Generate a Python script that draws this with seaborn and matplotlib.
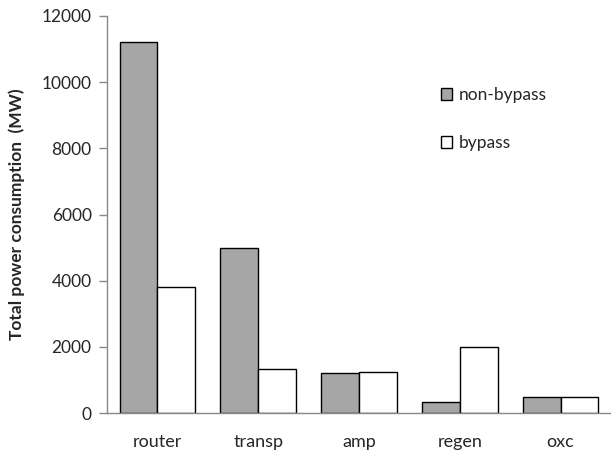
import numpy as np
import pandas as pd
import matplotlib
matplotlib.use("Agg")
import matplotlib.pyplot as plt
import seaborn as sns

categories = ["router", "transp", "amp", "regen", "oxc"]
non_bypass = [11200, 4980, 1200, 350, 480]
bypass = [3800, 1330, 1230, 2000, 480]
series_names = ["non-bypass", "bypass"]
y_ticks = [0, 2000, 4000, 6000, 8000, 10000, 12000]

df = pd.DataFrame({
    "category": categories * 2,
    "value": non_bypass + bypass,
    "series": [series_names[0]] * len(categories) + [series_names[1]] * len(categories),
})

sns.set_style("white")
plt.rcParams["font.family"] = ["Lato", "DejaVu Sans"]

fig = plt.figure(figsize=(6.11, 4.57), dpi=100)
ax = fig.add_axes([0.175, 0.096, 0.825, 0.869])

sns.barplot(data=df, x="category", y="value", hue="series",
            palette=["#a6a6a6", "white"], edgecolor="black", linewidth=1.0,
            width=0.75, gap=0, ax=ax)

ax.set_ylim(0, 12000)
ax.set_yticks(y_ticks)
ax.set_yticklabels([str(t) for t in y_ticks], fontsize=12.5)
ax.set_xlim(-0.5, 4.5)
ax.set_xticks(range(len(categories)))
ax.set_xticklabels(categories, fontsize=13)
ax.tick_params(axis="x", which="major", length=0, pad=15)
ax.set_xticks(np.arange(-0.5, 5.0, 1.0), minor=True)
ax.tick_params(axis="x", which="minor", length=6, color="#888888", width=1)
ax.tick_params(axis="y", which="major", length=6, color="#888888", width=1, left=True, pad=5)
ax.set_xlabel("")
ax.set_ylabel("Total power consumption  (MW)", fontsize=12.5, fontweight="bold", labelpad=12)

for side in ["top", "right"]:
    ax.spines[side].set_visible(False)
for side in ["left", "bottom"]:
    ax.spines[side].set_color("#888888")
    ax.spines[side].set_linewidth(1)

leg = ax.legend(loc="upper left", bbox_to_anchor=(0.632, 0.861), frameon=False,
                fontsize=12.5, labelspacing=1.87, handlelength=0.65, handleheight=0.65,
                handletextpad=0.35)

fig.savefig("out.png", dpi=100)
